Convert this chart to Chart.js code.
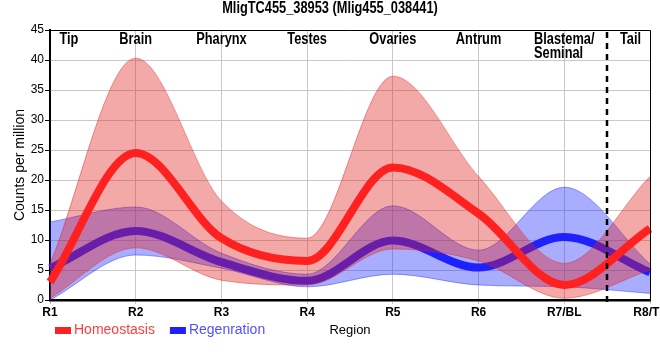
<!DOCTYPE html>
<html>
<head>
<meta charset="utf-8">
<script src="https://cdn.jsdelivr.net/npm/chart.js@4.4.1/dist/chart.umd.min.js"></script>
<style>
html,body{margin:0;padding:0;background:#fff;}
#wrap{width:660px;height:360px;position:relative;}
</style>
</head>
<body>
<div id="wrap"><canvas id="c" width="660" height="360"></canvas></div>
<script>
// ---- data ----
const categories = ['R1', 'R2', 'R3', 'R4', 'R5', 'R6', 'R7/BL', 'R8/TL'];
const regions = ['Tip', 'Brain', 'Pharynx', 'Testes', 'Ovaries', 'Antrum', ['Blastema/', 'Seminal'], 'Tail'];
const yTicks = [0, 5, 10, 15, 20, 25, 30, 35, 40, 45];

const homeoMean  = [3.0, 24.5, 10.3, 6.5, 22.1, 14.4, 2.5, 11.9];
const homeoUpper = [6.0, 40.3, 16.5, 10.3, 37.3, 20.6, 6.1, 20.6];
const homeoLower = [0.3, 8.7, 3.3, 2.5, 8.5, 6.5, 0.3, 5.0];

const regenMean  = [5.3, 11.5, 6.3, 3.2, 9.9, 5.4, 10.5, 4.6];
const regenUpper = [13.0, 15.5, 7.8, 4.3, 15.7, 8.3, 18.8, 6.0];
const regenLower = [0.0, 7.5, 5.3, 2.2, 4.3, 2.5, 2.2, 1.1];

const titleText = 'MligTC455_38953 (Mlig455_038441)';

// ---- styles ----
const SANS = '"Liberation Sans", Arial, sans-serif';
const NARROW_K = 0.8; // horizontal squeeze to imitate a narrow face
const RED_LINE = 'rgb(255,32,32)';
const BLUE_LINE = 'rgb(32,32,255)';
const RED_FILL = 'rgba(225,30,30,0.38)';
const BLUE_FILL = 'rgba(30,40,250,0.38)';
const RED_EDGE = 'rgba(225,40,40,0.45)';
const BLUE_EDGE = 'rgba(30,40,250,0.45)';

const common = { pointRadius: 0, pointHoverRadius: 0, cubicInterpolationMode: 'monotone' };

const datasets = [
  Object.assign({ label: 'Homeostasis', data: homeoMean, borderColor: RED_LINE, backgroundColor: RED_LINE, borderWidth: 8, fill: false, order: 1 }, common),
  Object.assign({ label: 'hLower', data: homeoLower, borderColor: RED_EDGE, borderWidth: 1, fill: false, order: 2 }, common),
  Object.assign({ label: 'hUpper', data: homeoUpper, borderColor: RED_EDGE, borderWidth: 1, backgroundColor: RED_FILL, fill: 1, order: 2 }, common),
  Object.assign({ label: 'Regenration', data: regenMean, borderColor: BLUE_LINE, backgroundColor: BLUE_LINE, borderWidth: 8, fill: false, order: 3 }, common),
  Object.assign({ label: 'rLower', data: regenLower, borderColor: BLUE_EDGE, borderWidth: 1, fill: false, order: 4 }, common),
  Object.assign({ label: 'rUpper', data: regenUpper, borderColor: BLUE_EDGE, borderWidth: 1, backgroundColor: BLUE_FILL, fill: 4, order: 4 }, common)
];

const legendItems = [
  { idx: 0, text: 'rgb(255,60,60)' },
  { idx: 3, text: 'rgb(80,80,255)' }
];

function narrowText(ctx, s, x, y) {
  const w = ctx.measureText(s).width;
  ctx.fillText(s, x, y, w * NARROW_K);
  return w * NARROW_K;
}

const decor = {
  id: 'decor',
  afterDatasetsDraw(chart) {
    const ctx = chart.ctx;
    const a = chart.chartArea;
    const xs = chart.scales.x;
    ctx.save();
    // frame top/right
    ctx.strokeStyle = '#000';
    ctx.lineWidth = 1;
    ctx.beginPath();
    ctx.moveTo(a.left, a.top + 0.5);
    ctx.lineTo(a.right + 0.5, a.top + 0.5);
    ctx.lineTo(a.right + 0.5, a.bottom);
    ctx.stroke();
    // dashed separator between R7/BL and R8/TL
    const dx = Math.round(xs.getPixelForValue(categories.length - 1.5));
    ctx.setLineDash([6, 5]);
    ctx.lineWidth = 2.5;
    ctx.beginPath();
    ctx.moveTo(dx, a.top + 2);
    ctx.lineTo(dx, a.bottom + 5);
    ctx.stroke();
    ctx.setLineDash([]);
    // region labels
    ctx.fillStyle = '#000';
    ctx.font = 'bold 16px ' + SANS;
    ctx.textBaseline = 'middle';
    ctx.textAlign = 'left';
    regions.forEach((r, i) => {
      let cx = xs.getPixelForValue(i);
      if (i === 0) cx = xs.getPixelForValue(0.22);
      if (i === regions.length - 1) cx = (dx + a.right) / 2 + 2;
      const lines = Array.isArray(r) ? r : [r];
      const w = Math.max(...lines.map(l => ctx.measureText(l).width)) * NARROW_K;
      lines.forEach((l, k) => narrowText(ctx, l, cx - w / 2, a.top + 10 + k * 14));
    });
    ctx.restore();
  },
  afterDraw(chart) {
    const ctx = chart.ctx;
    ctx.save();
    // title
    ctx.fillStyle = '#000';
    ctx.font = 'bold 16px ' + SANS;
    ctx.textBaseline = 'middle';
    ctx.textAlign = 'left';
    const tw = ctx.measureText(titleText).width * NARROW_K;
    narrowText(ctx, titleText, (chart.width - tw) / 2, 8.5);
    // legend
    ctx.font = '14px ' + SANS;
    let x = 55;
    const y = 330;
    legendItems.forEach(it => {
      const ds = chart.data.datasets[it.idx];
      ctx.fillStyle = ds.borderColor;
      ctx.fillRect(x, y - 3, 16, 7);
      ctx.fillStyle = it.text;
      ctx.fillText(ds.label, x + 19, y);
      x += 19 + ctx.measureText(ds.label).width + 15;
    });
    ctx.restore();
  }
};

new Chart(document.getElementById('c'), {
  type: 'line',
  data: { labels: categories, datasets: datasets },
  plugins: [decor],
  options: {
    responsive: false,
    devicePixelRatio: 1,
    animation: false,
    events: [],
    layout: { padding: { left: 0, right: 10, top: 30, bottom: 0 } },
    plugins: {
      legend: { display: false },
      tooltip: { enabled: false },
      title: { display: false }
    },
    scales: {
      x: {
        type: 'category',
        offset: false,
        grid: { color: '#c8c8c8', lineWidth: 1, tickColor: '#c8c8c8', tickLength: 4 },
        border: { color: '#000', width: 2.5 },
        ticks: { color: '#000', font: { family: SANS, size: 12, weight: 'bold' }, autoSkip: false, maxRotation: 0, minRotation: 0, padding: 1 },
        title: { display: true, text: 'Region', color: '#000', font: { family: SANS, size: 13 }, padding: { top: 0, bottom: 21.6 } },
        afterFit(s) { s.paddingLeft = 0; s.paddingRight = 0; s.height = 60; }
      },
      y: {
        min: 0, max: 45,
        afterBuildTicks(s) { s.ticks = yTicks.map(v => ({ value: v })); },
        grid: { color: '#c8c8c8', lineWidth: 1, tickColor: '#000', tickLength: 5 },
        border: { color: '#000', width: 2 },
        ticks: { color: '#000', font: { family: SANS, size: 12 }, padding: 1 },
        title: { display: true, text: 'Counts per million', color: '#000', font: { family: SANS, size: 14 }, padding: { top: 11.6, bottom: 0 } },
        afterFit(s) { s.width = 50; s.paddingTop = 0; s.paddingBottom = 0; }
      }
    }
  }
});
</script>
</body>
</html>
